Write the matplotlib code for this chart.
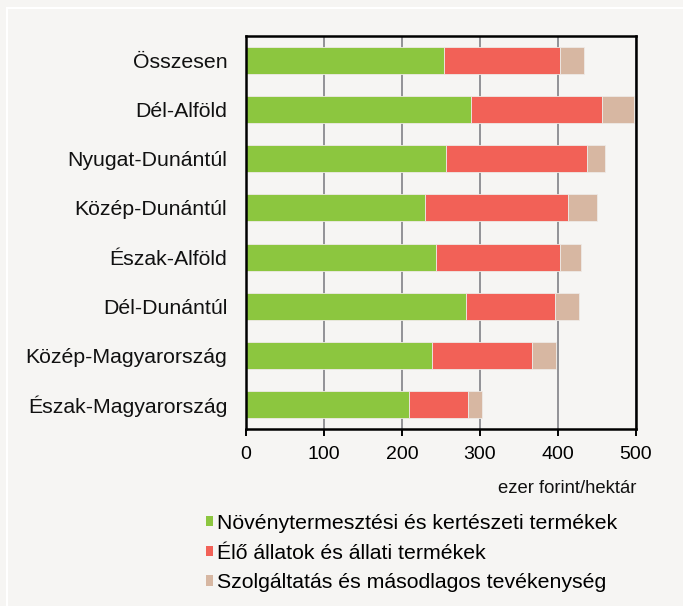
import matplotlib
matplotlib.use("Agg")
import matplotlib.pyplot as plt
from matplotlib.patches import Patch, Rectangle

plt.rcParams['font.family'] = ['Liberation Sans', 'DejaVu Sans']

# regions, top to bottom
regions = ["Összesen", "Dél-Alföld", "Nyugat-Dunántúl", "Közép-Dunántúl",
           "Észak-Alföld", "Dél-Dunántúl", "Közép-Magyarország", "Észak-Magyarország"]
# ezer forint/hektár
crops = [254, 289, 257, 230, 243, 282, 239, 209]
animals = [149, 168, 180, 183, 160, 114, 128, 76]
services = [30, 40, 23, 37, 27, 31, 30, 18]

series_names = ["Növénytermesztési és kertészeti termékek",
                "Élő állatok és állati termékek",
                "Szolgáltatás és másodlagos tevékenység"]
colors = ["#8cc63f", "#f26157", "#d7b7a2"]
bg = "#f6f5f3"

fig = plt.figure(figsize=(6.83, 6.06), dpi=100, facecolor=bg)
fig.patches.append(Rectangle((0.0105, -0.05), 1.2, 1.036, transform=fig.transFigure,
                             fill=False, edgecolor="white", lw=1.5))
ax = fig.add_axes([0.3602, 0.2921, 0.571, 0.6485], facecolor=bg)

y = list(range(len(regions)))
left = [0] * len(regions)
for vals, col, name in zip([crops, animals, services], colors, series_names):
    ax.barh(y, vals, left=left, height=0.55, color=col, edgecolor="#eeeae6",
            linewidth=0.6, label=name, zorder=3)
    left = [a + b for a, b in zip(left, vals)]

ax.set_ylim(len(regions) - 0.5, -0.5)
ax.set_xlim(0, 500)
ax.set_xticks([0, 100, 200, 300, 400, 500])
ax.set_yticks(y)
ax.set_yticklabels(regions, fontsize=15.3, color="#111111")
ax.tick_params(axis='y', length=0, pad=13.5)
ax.tick_params(axis='x', direction='out', length=5, width=1.4, labelsize=14,
               pad=7, colors="black")
ax.xaxis.grid(True, color="#8a8a8f", lw=1.3, zorder=1)
for s in ax.spines.values():
    s.set_color("black")
    s.set_linewidth(1.8)
    s.set_zorder(4)

fig.text(0.9312, 0.194, "ezer forint/hektár", ha="right", va="center",
         fontsize=13.3, color="#111111")

handles = [Patch(facecolor=c, edgecolor="none") for c in colors]
fig.legend(handles, series_names, loc="upper left", bbox_to_anchor=(0.3016, 0.152),
           frameon=False, fontsize=15.3, handlelength=0.35, handleheight=0.35,
           handletextpad=0.15, labelspacing=0.5, borderaxespad=0, borderpad=0)

fig.savefig("out.png", dpi=100, facecolor=bg)
